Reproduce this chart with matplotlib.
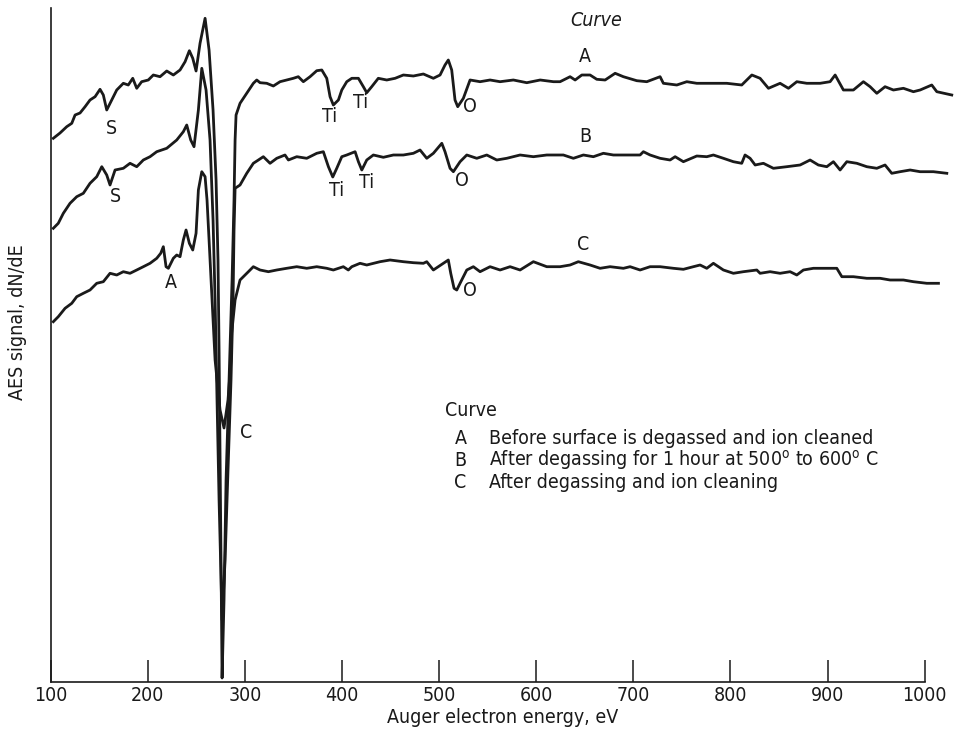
import matplotlib
matplotlib.use("Agg")
import matplotlib.pyplot as plt

plt.rcParams['font.family'] = ['DejaVu Sans']
plt.rcParams['font.stretch'] = 'condensed'

# ---- data (energy in eV, signal in arbitrary units) ----
energy_A = [102.6,109.5,116.4,121.6,125,130.1,135.3,140.4,145.6,150.7,154.1,157.6,162.7,167.9,174.7,179.8,
            184.4,188.5,193.6,200.4,205.6,212.5,219.4,226.2,233.1,238.3,242.7,246.2,249.6,253.7,258.9,263,
            267.1,270.2,272.2,273.3,274.3,275.3,276.4,278.4,280.5,283.6,286.7,288.7,289.8,290.8,294.9,
            308.6,312.1,315.5,322.4,329.2,336.1,343,349.8,354.9,360.1,367,373.9,379.1,384.2,387.6,391,
            396.2,399.7,404.8,410,416.8,421.9,425.4,430.5,437.3,446,454.6,463.1,473.4,483.7,494,500.9,
            506,509.4,512.9,516.3,519.1,524.9,531.8,542.1,552.4,562.7,576.4,590.2,604,617.7,624.5,634.8,
            640,646.9,655.4,662.3,670.9,681.2,689.7,703.5,713.8,727.5,730.9,744.7,755,765.3,779,796.2,
            811.6,822,830.5,839.1,851.1,859.7,868.3,878.6,892.3,902.6,907.8,916.3,926.6,936.9,943.8,
            950.7,959.2,967.8,978.1,988.4,995.3,1007.3,1012.5,1027.9]
signal_A = [541.7,547,553.3,556.7,565,567,573.3,580,583.3,590.7,585,570,580,590,596.7,595,
            601.7,591.7,598.3,600,605,603.3,609,605,610,618.3,629.3,621.7,609,636.7,661.7,630,
            570,500,420,330,230,120,2,80,200,300,400,480,540,565,576.7,
            596.7,600,597.3,596.7,594,598.3,600,601.7,603.3,598.3,603.3,609.3,610,601.7,583.3,575,
            580,590,598.3,601.7,601.7,593.3,587.3,593.3,601.7,600,601.7,605,604,606,601.7,605,
            615,620,610,580,573.3,581.7,600,598.3,600,598.3,600,597.3,600,598.3,598.3,603.3,
            600,605,605,600.7,600,606.7,603.3,599.3,598.3,603.3,596.7,595,598.3,596.7,596.7,596.7,
            595,605,601.7,591.7,596.7,591.7,598.3,596.7,596.7,598.3,605,590,590,598.3,593.3,
            586.7,593.3,590,591.7,588.3,590,595,588.3,585]

energy_B = [102.6,107.7,112.9,119.8,126.7,133.5,140.4,147.3,152.5,157.6,161,166.2,174.7,181.6,188.5,195.3,
            202.2,209.1,219.4,229.7,236.5,240,244.1,247.5,252,255.5,259.9,264,267.1,269.2,271.2,273.3,
            276.4,279.5,282.5,285.6,287.7,288.7,289.8,294.9,301.8,308.6,313.8,318.9,325.8,332.7,341.2,
            344.7,353.3,363.6,373.9,380.7,385.9,390.4,394.5,399.7,404.8,413.4,416.8,420.3,425.4,432.2,
            442.5,452.8,463.1,473.4,480.3,487.2,494,502.7,506,511.2,514.6,521.5,528.4,538.7,549,559.3,
            569.6,583.3,597,610.8,627.9,638.2,648.5,658.8,669.1,679.4,693.2,706.9,710.3,717.2,727.5,
            737.8,743,751.5,765.3,775.6,782.4,792.7,803,811.6,815,820.2,825.4,833.9,844.2,858,871.7,
            882,890.5,899.2,906,912.9,919.8,930.1,940.4,950.7,959.2,966.1,974.7,985,995.3,1009,1022.8]
signal_B = [451.7,456.7,466.7,476.7,483.3,486.7,496.7,503.3,513.3,505,495,510,511.7,516.7,513.3,520,
            523.3,528.3,531.7,540,548.3,555,540,533.3,570,611.7,590,540,460,380,280,180,
            60,120,210,300,380,450,491.7,495,506.7,516.7,520,523.3,516.7,521.7,525,
            520,523.3,521.7,526.7,528.3,513.3,503,511.7,523.3,525,528.3,518.3,510,520,525,
            522.7,525,525,526.7,530,521.7,526.7,536.7,528.3,511.7,508.3,518.3,525,521.7,525,520,
            521.7,525,523.3,525,525,521.7,525,523.3,526.7,525,525,525,528.3,525,521.7,
            520,523.3,518.3,524,523.3,525,521.7,518.3,516.7,525,521.7,515,516.7,511.7,513.3,515,
            520,515,513.3,518.3,510,518.3,516.7,513.3,511.7,515,506.7,508.3,510,508.3,508.3,506.7]

energy_C = [102.6,107.7,114.7,121.6,126.7,133.5,140.4,147.3,154.1,161,167.9,174.7,181.6,188.5,195.3,202.2,
            209.1,213.2,215.9,218.7,221.1,226.2,229.7,233.1,236.5,239.3,242.7,246.2,249.6,252,255.5,
            258.9,260.9,263,266.1,269.2,274.3,278.4,282.5,285.6,286.3,289.8,294.9,303.5,308.6,315.5,
            324.1,332.7,343,353.3,363.6,373.9,384.2,391,401.3,406.4,410,418.5,425.4,439.1,449.4,463.1,
            473.4,483.7,487.2,494,504.3,509.4,511.9,515.3,518.1,523.2,528.4,535.2,542.1,552.4,562.7,
            573,583.3,597,610.8,624.5,634.8,643.3,655.4,665.7,676,689.7,696.6,706.9,717.2,727.5,741.2,
            751.5,761.8,768.7,775.6,782.4,792.7,803,813.3,827.1,830.5,840.8,851.1,861.4,868.3,875.1,
            885.4,899.2,909.5,914.7,926.6,940.4,954.1,964.4,978.1,988.4,1002.2,1014.2]
signal_C = [358.3,363.3,371.7,376.7,383.3,386.7,390,396.7,398.3,406.7,405,408.3,406.7,410,413.3,416.7,
            421.7,426.7,433.3,413.3,411.7,421.7,425,423.3,440,450,436.7,430,446.7,490,508.3,
            503.3,480,440,380,320,270,252,280,320,347,380,400,408.3,413.3,410,
            408.3,410,411.7,413.3,411.7,413.3,411.7,410,413.3,410,413.3,416.7,415,418.3,420,418.3,
            417.3,416.7,418.3,410,416.7,420,406.7,391.7,390,400,410,413.3,408.3,413.3,410,
            413.3,410,418.3,413.3,413.3,415,418.3,415,411.7,413.3,411.7,413.3,410,413.3,413.3,411.7,
            410.7,413.3,415,411.7,416.7,410,406.7,408.3,410,406.7,408.3,406.7,408.3,405,410,
            411.7,411.7,411.7,403.3,403.3,401.7,401.7,400,400,398.3,396.7,396.7]

curve_names = ["A", "B", "C"]
legend_desc = ["Before surface is degassed and ion cleaned",
               "After degassing for 1 hour at 500$^{\\mathrm{o}}$ to 600$^{\\mathrm{o}}$ C",
               "After degassing and ion cleaning"]
xticks = [100, 200, 300, 400, 500, 600, 700, 800, 900, 1000]

# peak annotations: (label, energy, signal)
peak_labels = [("S", 162, 552), ("Ti", 386.6, 563), ("Ti", 419.5, 577), ("O", 531.8, 573),
               ("S", 167, 483), ("Ti", 393.8, 490), ("Ti", 425.7, 497), ("O", 523.6, 500),
               ("A", 223.8, 397), ("O", 531.8, 390), ("C", 301, 248)]
curve_label_pos = [(650, 623), (650, 544), (648, 436)]

ink = "#1a1a1a"
fig = plt.figure(figsize=(9.55, 7.37), dpi=100)
ax = fig.add_axes([50.8/955, 55/737, 903/955, 674/737])

for e, s in [(energy_A, signal_A), (energy_B, signal_B), (energy_C, signal_C)]:
    ax.plot(e, s, color=ink, lw=2.0, solid_joinstyle='round', clip_on=False)

ax.set_xlim(100, 1030)
ax.set_ylim(-2, 672)
ax.set_yticks([])
ax.set_xticks(xticks)
ax.set_xticklabels([str(t) for t in xticks])
ax.tick_params(axis='x', direction='in', length=16, width=1.1, colors=ink, labelsize=14, pad=3)
for side in ['top', 'right']:
    ax.spines[side].set_visible(False)
ax.spines['bottom'].set_bounds(100, 1000)
ax.spines['left'].set_linewidth(1.2)
ax.spines['bottom'].set_linewidth(1.2)
ax.spines['left'].set_color(ink)
ax.spines['bottom'].set_color(ink)

ax.set_xlabel("Auger electron energy, eV", fontsize=14, color=ink, labelpad=2)
ax.set_ylabel("AES signal, dN/dE", fontsize=14, color=ink)
ax.yaxis.set_label_coords(-0.026, 0.534)

for lab, e, s in peak_labels:
    ax.text(e, s, lab, fontsize=14, color=ink, ha='center', va='center')

ax.text(662, 660, "Curve", fontsize=14, color=ink, ha='center', va='center', style='italic')
for name, (e, s) in zip(curve_names, curve_label_pos):
    ax.text(e, s, name, fontsize=14, color=ink, ha='center', va='center')

ax.text(506, 270, "Curve", fontsize=14, color=ink, ha='left', va='center')
rows = [242, 220, 197]
for name, desc, s in zip(curve_names, legend_desc, rows):
    ax.text(522, s, name, fontsize=14, color=ink, ha='center', va='center')
    ax.text(551, s, desc, fontsize=14, color=ink, ha='left', va='center')

fig.savefig("out.png", dpi=100)
